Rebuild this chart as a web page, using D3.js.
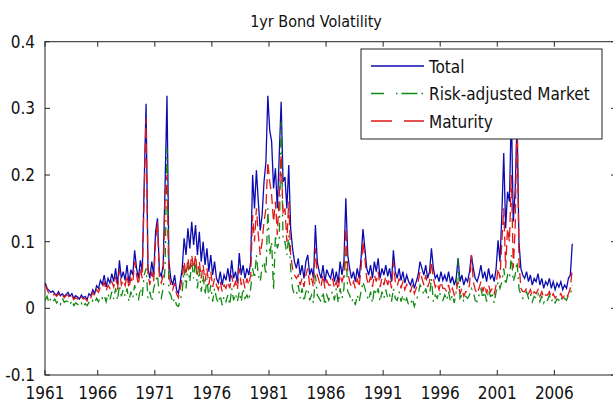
<!DOCTYPE html>
<html>
<head>
<meta charset="utf-8">
<script src="https://cdn.jsdelivr.net/npm/d3@7.9.0/dist/d3.min.js"></script>
<style>
  body { margin: 0; background: #fff; }
  svg { display: block; font-family: "Liberation Sans Narrow", "Arial Narrow", "DejaVu Sans Condensed", sans-serif; }
</style>
</head>
<body>
<svg id="chart" width="613" height="406"></svg>
<script>
// bimonthly observations, first one at 1961.4
const startYear = 1961.4;
const perYear = 6;

const total = [
  0.038, 0.030, 0.027, 0.024, 0.026, 0.022,
  0.020, 0.025, 0.019, 0.022, 0.018, 0.021,
  0.024, 0.018, 0.022, 0.015, 0.019, 0.017,
  0.014, 0.020, 0.016, 0.018, 0.013, 0.022,
  0.019, 0.028, 0.022, 0.034, 0.030, 0.042,
  0.036, 0.050, 0.032, 0.045, 0.038, 0.052,
  0.040, 0.060, 0.035, 0.072, 0.045, 0.055,
  0.042, 0.065, 0.038, 0.058, 0.050, 0.087,
  0.060, 0.045, 0.072, 0.055, 0.185, 0.307,
  0.060, 0.045, 0.070, 0.050, 0.115, 0.135,
  0.055, 0.048, 0.065, 0.185, 0.319, 0.070,
  0.045, 0.035, 0.050, 0.028, 0.022, 0.040,
  0.060, 0.105, 0.080, 0.120, 0.090, 0.130,
  0.095, 0.125, 0.080, 0.115, 0.070, 0.100,
  0.065, 0.090, 0.055, 0.080, 0.050, 0.070,
  0.045, 0.038, 0.055, 0.035, 0.050, 0.042,
  0.060, 0.040, 0.072, 0.045, 0.055, 0.038,
  0.083, 0.050, 0.065, 0.045, 0.060, 0.050,
  0.070, 0.200, 0.150, 0.207, 0.160, 0.117,
  0.140, 0.190, 0.220, 0.319, 0.267, 0.250,
  0.180, 0.210, 0.150, 0.230, 0.310, 0.190,
  0.197, 0.150, 0.215, 0.120, 0.090, 0.070,
  0.060, 0.075, 0.050, 0.065, 0.045, 0.070,
  0.080, 0.050, 0.060, 0.045, 0.125, 0.070,
  0.055, 0.045, 0.065, 0.040, 0.058, 0.050,
  0.045, 0.060, 0.040, 0.055, 0.038, 0.070,
  0.050, 0.070, 0.165, 0.080, 0.060, 0.045,
  0.055, 0.040, 0.060, 0.045, 0.075, 0.119,
  0.090, 0.060, 0.050, 0.065, 0.045, 0.070,
  0.055, 0.075, 0.045, 0.060, 0.050, 0.065,
  0.048, 0.060, 0.040, 0.087, 0.055, 0.045,
  0.060, 0.042, 0.055, 0.038, 0.050, 0.040,
  0.035, 0.045, 0.030, 0.040, 0.050, 0.070,
  0.060, 0.050, 0.065, 0.045, 0.055, 0.090,
  0.060, 0.045, 0.050, 0.040, 0.055, 0.042,
  0.050, 0.040, 0.055, 0.038, 0.048, 0.035,
  0.045, 0.075, 0.040, 0.050, 0.035, 0.045,
  0.040, 0.055, 0.080, 0.060, 0.045, 0.040,
  0.050, 0.065, 0.045, 0.055, 0.040, 0.060,
  0.045, 0.050, 0.040, 0.060, 0.102, 0.070,
  0.140, 0.233, 0.120, 0.175, 0.160, 0.300,
  0.130, 0.177, 0.280, 0.100, 0.060, 0.050,
  0.045, 0.055, 0.040, 0.050, 0.035, 0.045,
  0.040, 0.052, 0.035, 0.045, 0.030, 0.040,
  0.035, 0.045, 0.030, 0.040, 0.028, 0.038,
  0.032, 0.040, 0.028, 0.035, 0.030, 0.045,
  0.050, 0.097
];

const market = [
  0.012, 0.018, 0.008, 0.015, 0.010, 0.014,
  0.008, 0.012, 0.006, 0.015, 0.009, 0.011,
  0.010, 0.005, 0.012, 0.004, 0.008, 0.006,
  0.003, 0.008, 0.002, 0.007, 0.004, 0.009,
  0.006, 0.012, 0.008, 0.015, 0.010, 0.018,
  0.015, 0.020, 0.010, 0.022, 0.012, 0.025,
  0.014, 0.030, 0.012, 0.035, 0.018, 0.028,
  0.018, 0.030, 0.010, 0.025, 0.015, 0.035,
  0.020, 0.012, 0.030, 0.018, 0.050, 0.060,
  0.015, 0.025, 0.010, 0.030, 0.040, 0.050,
  0.020, 0.015, 0.030, 0.060, 0.240, 0.025,
  0.020, 0.008, 0.015, 0.005, 0.003, 0.012,
  0.025, 0.060, 0.030, 0.065, 0.040, 0.070,
  0.045, 0.075, 0.030, 0.060, 0.025, 0.050,
  0.020, 0.045, 0.015, 0.035, 0.010, 0.030,
  0.015, 0.008, 0.020, 0.005, 0.018, 0.010,
  0.020, 0.005, 0.030, 0.012, 0.022, 0.010,
  0.025, 0.010, 0.030, 0.015, 0.020, 0.012,
  0.030, 0.060, 0.045, 0.080, 0.050, 0.040,
  0.062, 0.070, 0.050, 0.150, 0.080, 0.100,
  0.027, 0.110, 0.090, 0.100, 0.280, 0.100,
  0.100, 0.080, 0.110, 0.060, 0.030, 0.020,
  0.020, 0.035, 0.015, 0.030, 0.010, 0.025,
  0.030, 0.012, 0.020, 0.008, 0.050, 0.020,
  0.015, 0.010, 0.025, 0.005, 0.020, 0.012,
  0.020, 0.025, 0.012, 0.030, 0.008, 0.030,
  0.015, 0.030, 0.090, 0.025, 0.020, 0.010,
  0.015, 0.005, 0.020, 0.010, 0.025, 0.040,
  0.030, 0.020, 0.012, 0.025, 0.008, 0.030,
  0.020, 0.030, 0.010, 0.025, 0.015, 0.028,
  0.015, 0.020, 0.010, 0.030, 0.015, 0.012,
  0.025, 0.010, 0.020, 0.008, 0.015, 0.005,
  0.005, 0.015, 0.003, 0.012, 0.020, 0.035,
  0.030, 0.020, 0.030, 0.015, 0.020, 0.045,
  0.010, 0.020, 0.015, 0.025, 0.018, 0.012,
  0.020, 0.012, 0.025, 0.010, 0.020, 0.008,
  0.025, 0.075, 0.015, 0.020, 0.010, 0.018,
  0.015, 0.020, 0.030, 0.025, 0.012, 0.010,
  0.020, 0.030, 0.015, 0.025, 0.010, 0.028,
  0.018, 0.020, 0.008, 0.025, 0.040, 0.030,
  0.040, 0.060, 0.035, 0.050, 0.045, 0.080,
  0.040, 0.050, 0.070, 0.030, 0.020, 0.015,
  0.020, 0.025, 0.015, 0.022, 0.010, 0.018,
  0.015, 0.022, 0.010, 0.018, 0.008, 0.015,
  0.012, 0.020, 0.010, 0.015, 0.008, 0.014,
  0.012, 0.018, 0.010, 0.015, 0.012, 0.020,
  0.020, 0.035
];

const maturity = [
  0.036, 0.028, 0.022, 0.023, 0.020, 0.021,
  0.018, 0.022, 0.017, 0.020, 0.016, 0.019,
  0.020, 0.015, 0.019, 0.013, 0.016, 0.014,
  0.012, 0.017, 0.014, 0.015, 0.011, 0.018,
  0.016, 0.024, 0.019, 0.028, 0.024, 0.032,
  0.030, 0.040, 0.026, 0.035, 0.030, 0.040,
  0.032, 0.048, 0.028, 0.058, 0.035, 0.042,
  0.034, 0.050, 0.030, 0.045, 0.038, 0.070,
  0.050, 0.035, 0.060, 0.045, 0.170, 0.285,
  0.050, 0.035, 0.055, 0.040, 0.100, 0.130,
  0.045, 0.038, 0.050, 0.170, 0.200, 0.050,
  0.035, 0.028, 0.038, 0.022, 0.016, 0.030,
  0.045, 0.070, 0.050, 0.075, 0.055, 0.080,
  0.060, 0.080, 0.050, 0.070, 0.045, 0.065,
  0.040, 0.060, 0.035, 0.055, 0.032, 0.045,
  0.035, 0.028, 0.040, 0.025, 0.035, 0.030,
  0.040, 0.030, 0.050, 0.032, 0.040, 0.028,
  0.060, 0.035, 0.045, 0.030, 0.045, 0.035,
  0.050, 0.140, 0.100, 0.150, 0.110, 0.080,
  0.100, 0.130, 0.150, 0.220, 0.190, 0.170,
  0.130, 0.160, 0.110, 0.170, 0.230, 0.140,
  0.150, 0.100, 0.160, 0.080, 0.060, 0.050,
  0.045, 0.050, 0.035, 0.045, 0.032, 0.050,
  0.060, 0.035, 0.045, 0.032, 0.090, 0.050,
  0.040, 0.032, 0.050, 0.030, 0.042, 0.035,
  0.035, 0.045, 0.030, 0.040, 0.028, 0.050,
  0.040, 0.050, 0.120, 0.055, 0.040, 0.032,
  0.040, 0.030, 0.045, 0.032, 0.060, 0.100,
  0.075, 0.045, 0.035, 0.048, 0.032, 0.050,
  0.040, 0.055, 0.032, 0.045, 0.035, 0.048,
  0.035, 0.045, 0.030, 0.070, 0.040, 0.033,
  0.045, 0.030, 0.040, 0.028, 0.036, 0.030,
  0.025, 0.035, 0.022, 0.030, 0.040, 0.055,
  0.045, 0.035, 0.050, 0.032, 0.040, 0.070,
  0.045, 0.032, 0.038, 0.028, 0.040, 0.030,
  0.030, 0.025, 0.035, 0.022, 0.030, 0.020,
  0.025, 0.040, 0.022, 0.030, 0.018, 0.025,
  0.025, 0.035, 0.080, 0.040, 0.028, 0.022,
  0.030, 0.040, 0.025, 0.035, 0.022, 0.035,
  0.025, 0.030, 0.022, 0.035, 0.060, 0.045,
  0.100, 0.150, 0.060, 0.120, 0.100, 0.200,
  0.060, 0.120, 0.300, 0.070, 0.030, 0.025,
  0.025, 0.030, 0.022, 0.028, 0.018, 0.025,
  0.022, 0.028, 0.018, 0.025, 0.016, 0.020,
  0.020, 0.025, 0.016, 0.022, 0.015, 0.020,
  0.018, 0.022, 0.015, 0.020, 0.016, 0.022,
  0.030, 0.060
];

const seriesNames = ['Total', 'Risk-adjusted Market', 'Maturity'];
const seriesColors = ['#0b0bb0', '#128a12', '#e01818'];
const xTickLabels = ['1961', '1966', '1971', '1976', '1981', '1986', '1991', '1996', '2001', '2006'];
const yTicks = [-0.1, 0, 0.1, 0.2, 0.3, 0.4];

const svg = d3.select('#chart');
const plotL = 45, plotR = 616, plotT = 41.7, plotB = 375;

const x = d3.scaleLinear().domain([startYear - 0.02, 2011.4]).range([plotL, plotR]);
const y = d3.scaleLinear().domain([-0.1, 0.4]).range([plotB, plotT]);

// first label sits on the first observation, the rest on whole years
const xTickPos = xTickLabels.map((t, i) => i === 0 ? startYear - 0.02 : +t);

const yearOf = i => startYear + i / perYear;
const line = d3.line().x((d, i) => x(yearOf(i))).y(d => y(d));

const g = svg.append('g');
g.append('path').datum(total)
  .attr('fill', 'none').attr('stroke', seriesColors[0]).attr('stroke-width', 1.3)
  .attr('d', line);
g.append('path').datum(market)
  .attr('fill', 'none').attr('stroke', seriesColors[1]).attr('stroke-width', 1.3)
  .attr('stroke-dasharray', '9,5,2,5')
  .attr('d', line);
g.append('path').datum(maturity)
  .attr('fill', 'none').attr('stroke', seriesColors[2]).attr('stroke-width', 1.3)
  .attr('stroke-dasharray', '10,5')
  .attr('d', line);

// box with inward ticks on all four sides
const axisColor = '#222';
const tl = 5;
svg.append('rect')
  .attr('x', plotL).attr('y', plotT).attr('width', plotR - plotL).attr('height', plotB - plotT)
  .attr('fill', 'none').attr('stroke', axisColor).attr('stroke-width', 1);

xTickPos.forEach(p => {
  svg.append('line').attr('x1', x(p)).attr('x2', x(p)).attr('y1', plotB).attr('y2', plotB - tl)
    .attr('stroke', axisColor);
  svg.append('line').attr('x1', x(p)).attr('x2', x(p)).attr('y1', plotT).attr('y2', plotT + tl)
    .attr('stroke', axisColor);
});
yTicks.forEach(v => {
  svg.append('line').attr('x1', plotL).attr('x2', plotL + tl).attr('y1', y(v)).attr('y2', y(v))
    .attr('stroke', axisColor);
  svg.append('line').attr('x1', plotR).attr('x2', plotR - tl).attr('y1', y(v)).attr('y2', y(v))
    .attr('stroke', axisColor);
});

svg.selectAll('.xlab').data(xTickLabels).join('text')
  .attr('x', (d, i) => x(xTickPos[i])).attr('y', 399)
  .attr('text-anchor', 'middle').attr('font-size', 17).attr('fill', '#111')
  .text(d => d);

svg.selectAll('.ylab').data(yTicks).join('text')
  .attr('x', 35).attr('y', d => y(d) + 6)
  .attr('text-anchor', 'end').attr('font-size', 17).attr('fill', '#111')
  .text(d => d3.format('.1f')(d).replace('0.0', '0').replace('−', '-'));

svg.append('text')
  .attr('x', 316).attr('y', 27).attr('text-anchor', 'middle')
  .attr('font-size', 16).attr('fill', '#111')
  .text('1yr Bond Volatility');

// legend
const lg = svg.append('g');
lg.append('rect').attr('x', 361).attr('y', 49).attr('width', 241).attr('height', 90)
  .attr('fill', '#fff').attr('stroke', axisColor);
const legendDash = [null, '13,12,1.5,4,16,4,1.5', '21,12'];
seriesNames.forEach((name, i) => {
  const cy = 66 + i * 27.5;
  lg.append('line').attr('x1', 371).attr('x2', 424).attr('y1', cy).attr('y2', cy)
    .attr('stroke', seriesColors[i]).attr('stroke-width', 1.3)
    .attr('stroke-dasharray', legendDash[i]);
  lg.append('text').attr('x', 429).attr('y', cy + 6.5)
    .attr('font-size', 17).attr('fill', '#111').text(name);
});
</script>
</body>
</html>
